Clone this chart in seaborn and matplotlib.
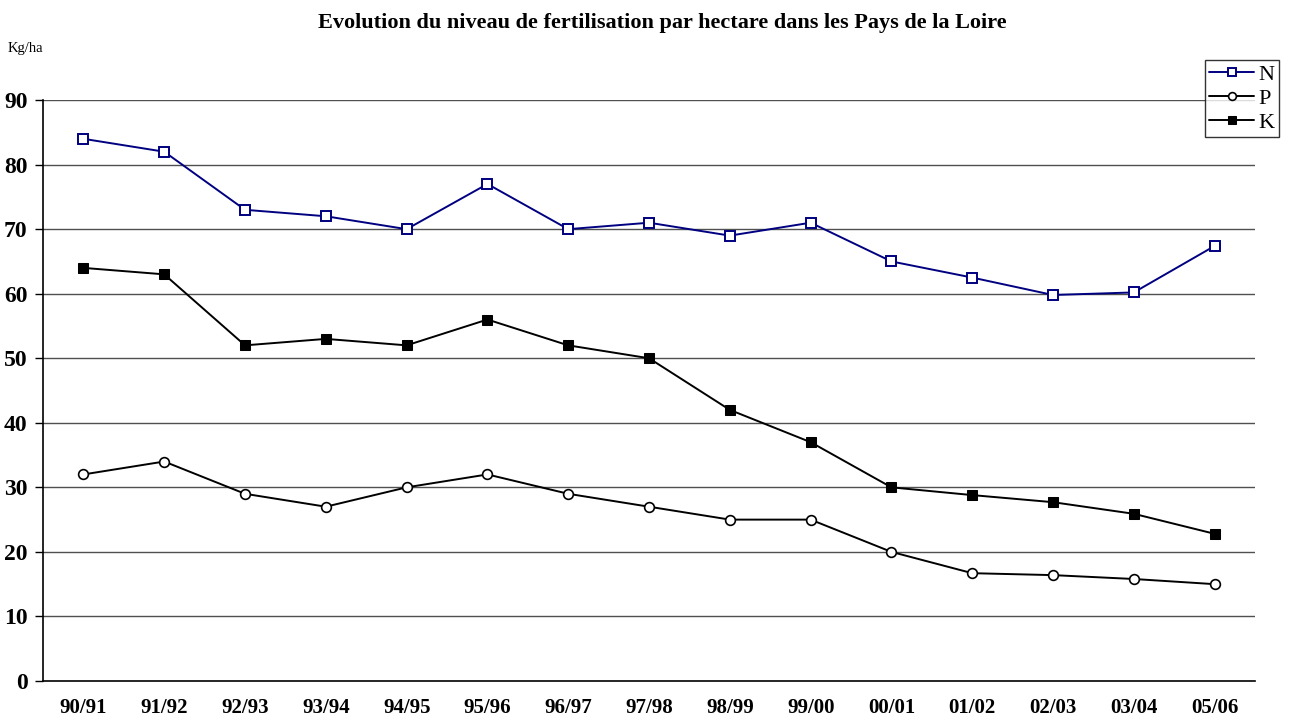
import matplotlib.pyplot as plt
import seaborn as sns

periods = ["90/91", "91/92", "92/93", "93/94", "94/95", "95/96", "96/97", "97/98",
           "98/99", "99/00", "00/01", "01/02", "02/03", "03/04", "05/06"]
azote = [84, 82, 73, 72, 70, 77, 70, 71, 69, 71, 65, 62.5, 59.8, 60.2, 67.4]
phosphore = [32, 34, 29, 27, 30, 32, 29, 27, 25, 25, 20, 16.7, 16.4, 15.8, 15.0]
potasse = [64, 63, 52, 53, 52, 56, 52, 50, 42, 37, 30, 28.8, 27.7, 25.9, 22.8]
yticks = [0, 10, 20, 30, 40, 50, 60, 70, 80, 90]

NAVY = "#000080"

sns.set_theme(style="white")
plt.rcParams["font.family"] = ["Liberation Serif", "DejaVu Serif"]
plt.rcParams["text.color"] = "black"
plt.rcParams["xtick.color"] = "black"
plt.rcParams["ytick.color"] = "black"

fig = plt.figure(figsize=(12.92, 7.2), dpi=100)
ax = fig.add_axes([0.0333, 0.0542, 0.9381, 0.8068])

x = list(range(len(periods)))
sns.lineplot(x=x, y=azote, ax=ax, color=NAVY, lw=1.4, marker="s", markersize=7,
             markerfacecolor="white", markeredgecolor=NAVY, markeredgewidth=1.4, label="N")
sns.lineplot(x=x, y=phosphore, ax=ax, color="black", lw=1.4, marker="o", markersize=7,
             markerfacecolor="white", markeredgecolor="black", markeredgewidth=1.2, label="P")
sns.lineplot(x=x, y=potasse, ax=ax, color="black", lw=1.4, marker="s", markersize=7,
             markerfacecolor="black", markeredgecolor="black", label="K")

ax.set_xlim(-0.5, len(periods) - 0.5)
ax.set_ylim(0, 90)
ax.set_yticks(yticks)
ax.set_yticklabels([str(t) for t in yticks], fontsize=17, fontweight="bold")
ax.set_xticks(x)
ax.set_xticklabels(periods, fontsize=15, fontweight="bold")
ax.tick_params(axis="x", length=0, pad=12)
ax.tick_params(axis="y", left=True, length=6, width=1, color="black", pad=5, direction="out")
for t in yticks[1:]:
    ax.axhline(t, color="#505050", lw=1, zorder=0)

for side in ["top", "right"]:
    ax.spines[side].set_visible(False)
for side in ["left", "bottom"]:
    ax.spines[side].set_color("black")
    ax.spines[side].set_linewidth(1.2)

fig.text(0.513, 0.968, "Evolution du niveau de fertilisation par hectare dans les Pays de la Loire",
         ha="center", va="center", fontsize=16, fontweight="bold")
fig.text(0.006, 0.933, "Kg/ha", ha="left", va="center", fontsize=10.5)

leg = ax.legend(loc="upper left", bbox_to_anchor=(1205 / 1292, 1 - 60 / 720),
                bbox_transform=fig.transFigure, frameon=True, fancybox=False,
                fontsize=16, handlelength=2.0, borderpad=0.2, labelspacing=0.15,
                handletextpad=0.2, borderaxespad=0, markerscale=0.8)
leg.get_frame().set_edgecolor("black")
leg.get_frame().set_linewidth(1)

fig.savefig("out.png", dpi=100, facecolor="white")
